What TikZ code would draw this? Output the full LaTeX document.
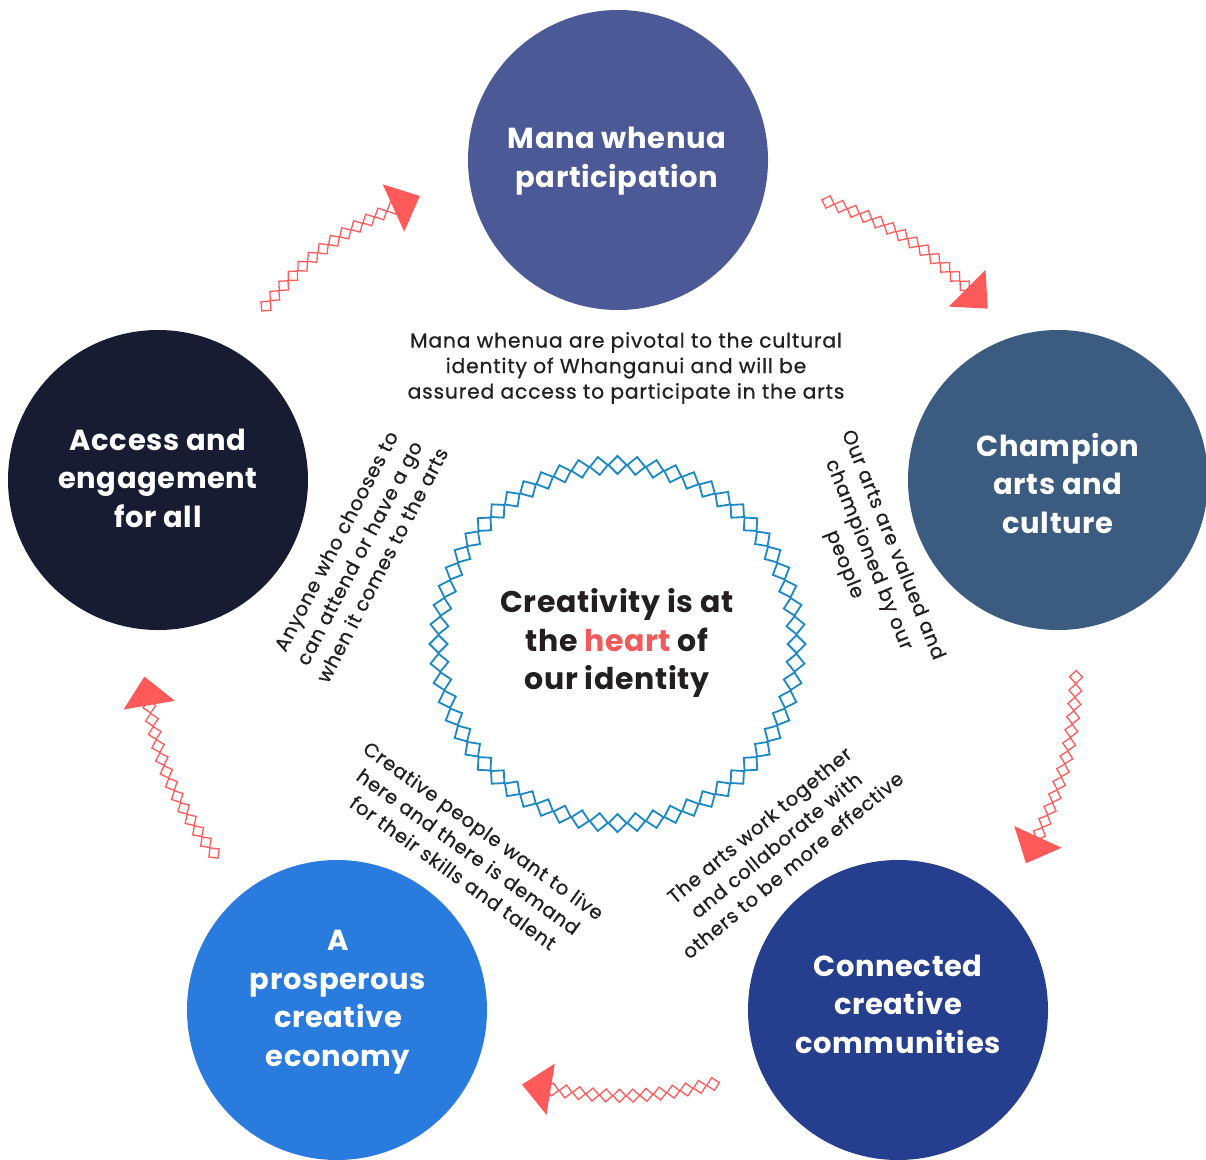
\documentclass[tikz,border=0pt]{standalone}
\usepackage{fontspec}
\setmainfont{Poppins}
\newfontfamily\notefamily{Poppins}[LetterSpace=4, FakeBold=0.7]
\newfontfamily\headfamily{Poppins}[LetterSpace=2]
\usetikzlibrary{decorations.markings}

\definecolor{ink}{HTML}{231F20}
\definecolor{cTop}{HTML}{4B5996}
\definecolor{cRight}{HTML}{3C5B80}
\definecolor{cBR}{HTML}{253F8E}
\definecolor{cBL}{HTML}{2A7BDE}
\definecolor{cLeft}{HTML}{171C33}
\definecolor{linkred}{HTML}{FF5A5A}
\definecolor{ringblue}{HTML}{1B87C5}
\definecolor{heartred}{HTML}{F15A5A}

\begin{document}
\begin{tikzpicture}[x=1pt,y=1pt,
  hub/.style={circle, minimum size=300pt, inner sep=0pt, draw=none},
  title/.style={text=white, align=center, inner sep=0pt,
    font=\headfamily\bfseries\fontsize{29}{38.5}\selectfont},
  corefont/.style={text=ink, align=center, inner sep=0pt,
    font=\headfamily\bfseries\fontsize{30}{38.5}\selectfont},
  note/.style={text=ink, align=center, inner sep=0pt,
    font=\notefamily\fontsize{19.5}{26}\selectfont},
  link/.style={
    postaction={decorate, decoration={markings,
      mark=between positions 0 and 1 step 13.5pt with
        {\draw[linkred, line width=1.3pt] (-6.5,0)--(0,6.5)--(6.5,0)--(0,-6.5)--cycle;}}},
    postaction={decorate, decoration={markings,
      mark=at position 0.999 with
        {\fill[linkred] (-1,26)--(28,0)--(-1,-26)--cycle;}}}},
  gem/.style={draw=ringblue, line width=1.8pt, line join=miter},
]
\useasboundingbox (0,0) rectangle (1206,-1159);

% the five pillars
\node[hub, fill=cTop]   (mana)   at (618,-160)  {};
\node[hub, fill=cRight] (champ)  at (1058,-480) {};
\node[hub, fill=cBR]    (conn)   at (898,-1010) {};
\node[hub, fill=cBL]    (pros)   at (337,-1010) {};
\node[hub, fill=cLeft]  (access) at (158,-480)  {};

\node[title] (manaT)   at (617,-161)  {Mana whenua\\participation};
\node[title] (champT)  at (1058,-483) {Champion\\arts and\\culture};
\node[title] (connT)   at (898,-1004) {Connected\\creative\\communities};
\node[title] (prosT)   at (338,-1002) {A\\prosperous\\creative\\economy};
\node[title] (accessT) at (158,-478)  {Access and\\engagement\\for all};

% ring of diamonds around the core statement
\coordinate (hubc) at (617.5,-644);
\foreach \k in {0,...,59}{
  \draw[gem, shift={(hubc)}, rotate=\k*6]
    (170,0) -- (179,9) -- (188,0) -- (179,-9) -- cycle;
}
\node[corefont] (core) at (617,-643)
  {Creativity is at\\the \textcolor{heartred}{heart} of\\our identity};

% explanatory notes
\node[note, font=\notefamily\fontsize{20.3}{25.5}\selectfont] (manaN) at (626,-368)
  {Mana whenua are pivotal to the cultural\\identity of Whanganui and will be\\assured access to participate in the arts};
\node[note, rotate=-68] (champN) at (868,-555)
  {Our arts are valued and\\championed by our\\people};
\node[note, rotate=39.7] (connN) at (776,-845)
  {The arts work together\\and collaborate with\\others to be more effective};
\node[note, rotate=-35.7] (prosN) at (468.5,-851.5)
  {Creative people want to live\\here and there is demand\\for their skills and talent};
\node[note, rotate=62.5] (accessN) at (359,-553)
  {Anyone who chooses to\\can attend or have a go\\when it comes to the arts};

% cycle links between the pillars
\coordinate (l1s) at (266,-306);   \coordinate (l1e) at (394.5,-207.5);
\coordinate (l2s) at (828,-202);   \coordinate (l2e) at (968,-289);
\coordinate (l3s) at (1076,-677);  \coordinate (l3e) at (1037.5,-838);
\coordinate (l4s) at (713,-1084);  \coordinate (l4e) at (549.5,-1089);
\coordinate (l5s) at (214,-853);   \coordinate (l5e) at (149,-704);

\path[link] (l1s) to[bend left=13] (l1e);
\path[link] (l2s) to[bend left=13] (l2e);
\path[link] (l3s) to[bend left=11] (l3e);
\path[link] (l4s) to[bend left=11] (l4e);
\path[link] (l5s) to[bend left=14] (l5e);
\end{tikzpicture}
\end{document}
